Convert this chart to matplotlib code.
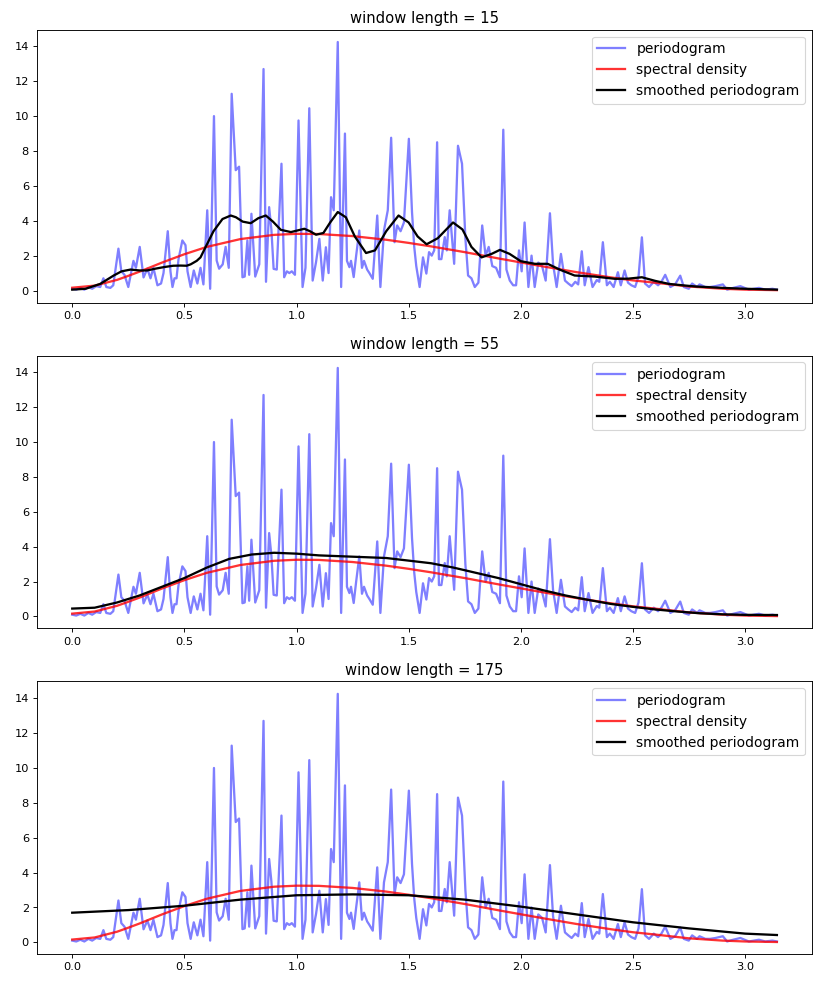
import matplotlib
matplotlib.use("Agg")
import matplotlib.pyplot as plt

# periodogram (frequency, value)
freq = [
    0.000, 0.018, 0.036, 0.054, 0.072, 0.089, 0.107, 0.125, 0.139, 0.152,
    0.170, 0.183, 0.206, 0.219, 0.233, 0.250, 0.273, 0.284, 0.301, 0.318,
    0.335, 0.349, 0.362, 0.380, 0.396, 0.407, 0.426, 0.438, 0.447, 0.456,
    0.465, 0.474, 0.491, 0.505, 0.514, 0.528, 0.542, 0.558, 0.572, 0.585,
    0.602, 0.615, 0.632, 0.644, 0.655, 0.671, 0.684, 0.698, 0.711, 0.729,
    0.744, 0.759, 0.769, 0.781, 0.789, 0.799, 0.816, 0.834, 0.853, 0.864,
    0.878, 0.888, 0.898, 0.912, 0.933, 0.945, 0.957, 0.968, 0.979, 0.993,
    1.009, 1.027, 1.040, 1.057, 1.072, 1.087, 1.102, 1.117, 1.131, 1.143,
    1.154, 1.166, 1.184, 1.199, 1.216, 1.225, 1.236, 1.243, 1.255, 1.266,
    1.280, 1.292, 1.301, 1.315, 1.325, 1.340, 1.360, 1.374, 1.390, 1.407,
    1.422, 1.437, 1.449, 1.464, 1.479, 1.501, 1.515, 1.525, 1.534, 1.549,
    1.564, 1.579, 1.591, 1.603, 1.614, 1.627, 1.635, 1.646, 1.661, 1.670,
    1.683, 1.703, 1.720, 1.738, 1.753, 1.765, 1.780, 1.795, 1.811, 1.828,
    1.843, 1.857, 1.873, 1.890, 1.907, 1.922, 1.936, 1.951, 1.966, 1.979,
    1.992, 2.004, 2.017, 2.034, 2.048, 2.062, 2.078, 2.095, 2.111, 2.130,
    2.144, 2.160, 2.179, 2.197, 2.212, 2.227, 2.243, 2.256, 2.272, 2.285,
    2.302, 2.320, 2.339, 2.350, 2.366, 2.384, 2.397, 2.414, 2.433, 2.446,
    2.463, 2.478, 2.493, 2.510, 2.525, 2.540, 2.554, 2.572, 2.593, 2.612,
    2.627, 2.644, 2.667, 2.688, 2.711, 2.727, 2.749, 2.764, 2.786, 2.797,
    2.823, 2.844, 2.868, 2.901, 2.920, 2.947, 2.979, 3.017, 3.062, 3.090,
    3.122, 3.142,
]
pgram = [
    0.10, 0.05, 0.15, 0.05, 0.20, 0.10, 0.25, 0.20, 0.70, 0.20,
    0.15, 0.30, 2.40, 1.10, 0.90, 0.20, 1.70, 1.30, 2.50, 0.75,
    1.25, 0.70, 1.30, 0.30, 0.40, 1.00, 3.40, 1.10, 0.20, 0.70,
    0.70, 1.80, 2.87, 2.60, 1.10, 0.20, 1.15, 0.40, 1.30, 0.35,
    4.60, 0.10, 10.00, 1.72, 1.25, 1.50, 2.50, 1.30, 11.28, 6.90,
    7.10, 0.76, 0.80, 2.87, 0.90, 4.40, 0.80, 1.50, 12.70, 0.50,
    4.78, 3.50, 1.24, 1.20, 7.27, 0.76, 1.10, 1.00, 1.10, 0.90,
    9.75, 0.20, 1.30, 10.45, 0.57, 1.62, 2.96, 0.57, 2.48, 1.00,
    5.35, 4.60, 14.25, 0.20, 9.00, 1.70, 1.34, 1.70, 0.77, 2.00,
    3.44, 1.30, 1.70, 1.20, 1.00, 0.67, 4.30, 0.20, 3.44, 4.60,
    8.76, 2.77, 3.73, 3.40, 3.90, 8.70, 4.50, 2.50, 1.40, 0.20,
    1.90, 0.97, 2.20, 2.00, 2.30, 8.50, 1.80, 1.80, 3.06, 2.30,
    4.60, 1.53, 8.30, 7.27, 3.00, 0.86, 0.70, 0.20, 0.45, 3.73,
    2.00, 2.50, 1.40, 1.30, 0.76, 9.22, 1.20, 0.57, 0.30, 0.30,
    2.30, 1.10, 3.90, 0.20, 2.00, 0.20, 1.60, 1.40, 0.57, 4.43,
    1.50, 0.20, 2.10, 0.57, 0.40, 0.25, 0.50, 0.35, 2.25, 0.30,
    1.34, 0.20, 0.60, 0.50, 2.77, 0.30, 0.50, 0.20, 1.05, 0.30,
    1.15, 0.45, 0.30, 0.20, 0.80, 3.05, 0.40, 0.20, 0.50, 0.30,
    0.50, 0.90, 0.20, 0.35, 0.85, 0.20, 0.10, 0.40, 0.20, 0.35,
    0.20, 0.20, 0.25, 0.35, 0.05, 0.15, 0.25, 0.05, 0.15, 0.05,
    0.10, 0.05,
]

# spectral density
sd_freq = [0.0, 0.1, 0.2, 0.25, 0.3, 0.4, 0.5, 0.6, 0.75, 0.9, 1.0, 1.1, 1.25, 1.4,
           1.5, 1.6, 1.75, 1.9, 2.0, 2.1, 2.25, 2.4, 2.5, 2.6, 2.75, 2.9, 3.0, 3.142]
sd_vals = [0.16, 0.28, 0.61, 0.84, 1.08, 1.6, 2.08, 2.5, 2.95, 3.19, 3.25, 3.24, 3.12, 2.91,
           2.73, 2.53, 2.2, 1.84, 1.61, 1.38, 1.05, 0.755, 0.58, 0.446, 0.23, 0.10, 0.05, 0.02]

# smoothed periodograms
sm15_freq = [0.0, 0.06, 0.125, 0.185, 0.22, 0.26, 0.3, 0.334, 0.37, 0.408, 0.45, 0.483,
             0.51, 0.528, 0.555, 0.572, 0.595, 0.63, 0.67, 0.707, 0.73, 0.76, 0.796, 0.83,
             0.863, 0.895, 0.93, 0.975, 1.035, 1.06, 1.087, 1.12, 1.15, 1.184, 1.22, 1.26,
             1.31, 1.35, 1.40, 1.455, 1.5, 1.54, 1.58, 1.63, 1.698, 1.74, 1.78, 1.825,
             1.87, 1.907, 1.95, 2.0, 2.063, 2.12, 2.175, 2.24, 2.33, 2.42, 2.48, 2.54,
             2.6, 2.66, 2.72, 2.78, 2.9, 3.0, 3.142]
sm15_vals = [0.05, 0.1, 0.38, 0.86, 1.1, 1.2, 1.15, 1.15, 1.25, 1.34, 1.42, 1.43,
             1.42, 1.5, 1.7, 1.9, 2.5, 3.4, 4.1, 4.3, 4.2, 3.95, 3.86, 4.15,
             4.3, 3.95, 3.48, 3.35, 3.54, 3.4, 3.2, 3.3, 3.9, 4.5, 4.2, 3.1,
             2.15, 2.3, 3.4, 4.3, 3.9, 3.1, 2.65, 3.0, 3.9, 3.5, 2.5, 1.9,
             2.1, 2.33, 2.1, 1.68, 1.53, 1.53, 1.19, 0.86, 0.8, 0.67, 0.68, 0.76,
             0.55, 0.38, 0.3, 0.23, 0.15, 0.1, 0.05]

sm55_freq = [0.0, 0.1, 0.2, 0.3, 0.4, 0.5, 0.6, 0.7, 0.8, 0.9, 1.0, 1.1, 1.2, 1.3, 1.4, 1.5,
             1.6, 1.7, 1.8, 1.9, 2.0, 2.1, 2.2, 2.3, 2.4, 2.5, 2.6, 2.7, 2.8, 2.9, 3.0, 3.142]
sm55_vals = [0.45, 0.5, 0.8, 1.2, 1.7, 2.2, 2.8, 3.3, 3.55, 3.65, 3.6, 3.5, 3.45, 3.4, 3.35, 3.2,
             3.05, 2.8, 2.5, 2.2, 1.85, 1.5, 1.2, 0.95, 0.72, 0.55, 0.4, 0.28, 0.18, 0.12, 0.09, 0.08]

sm175_freq = [0.0, 0.25, 0.5, 0.75, 1.0, 1.25, 1.5, 1.75, 2.0, 2.25, 2.5, 2.75, 3.0, 3.142]
sm175_vals = [1.7, 1.85, 2.1, 2.45, 2.7, 2.75, 2.7, 2.45, 2.05, 1.6, 1.15, 0.8, 0.5, 0.42]

window_lengths = [15, 55, 175]
smoothed = [(sm15_freq, sm15_vals), (sm55_freq, sm55_vals), (sm175_freq, sm175_vals)]

fig, axes = plt.subplots(3, 1, figsize=(10, 12.02), dpi=82.2)
fig.subplots_adjust(left=0.045, right=0.988, bottom=0.034, top=0.970, hspace=0.194)

for ax, wl, (sf, sv) in zip(axes, window_lengths, smoothed):
    ax.plot(freq, pgram, 'b-', lw=2, alpha=0.5, label='periodogram')
    ax.plot(sd_freq, sd_vals, 'r-', lw=2, alpha=0.8, label='spectral density')
    ax.plot(sf, sv, 'k-', lw=2, label='smoothed periodogram')
    ax.legend(loc='upper right', fontsize=12.2)
    ax.set_title(f'window length = {wl}', fontsize=12.9)

fig.savefig("out.png", dpi=82.2)
